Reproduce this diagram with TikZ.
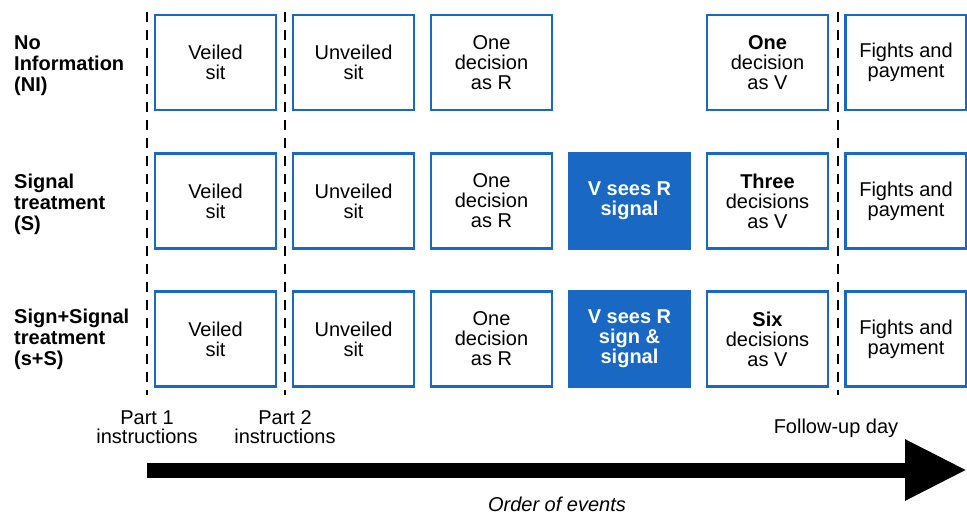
\documentclass[tikz,border=0pt]{standalone}
\usepackage{fontspec}
\setmainfont{Liberation Sans}
\usepackage{tikz}
\usetikzlibrary{arrows.meta, positioning}
\definecolor{figblue}{RGB}{24,104,196}

\begin{document}
\begin{tikzpicture}[
    x=1pt, y=-1pt,
    box/.style={rectangle, draw=figblue, line width=2.5pt, fill=white, minimum width=121pt, minimum height=95pt, inner sep=0pt, align=center, font=\fontsize{20}{20}\selectfont},
    fullbox/.style={box, fill=figblue, text=white, font=\fontsize{20}{20}\selectfont\bfseries},
    rowlabel/.style={anchor=west, align=left, inner sep=0pt, font=\fontsize{20}{21}\selectfont\bfseries},
    phase/.style={align=center, inner sep=0pt, font=\fontsize{20}{19}\selectfont},
    divider/.style={line width=2pt, dash pattern=on 10pt off 8pt},
]
\useasboundingbox (0,0) rectangle (967,514);

% Phase dividers
\coordinate (d1top) at (147,12);
\coordinate (d1bot) at (147,395);
\coordinate (d2top) at (285,12);
\coordinate (d2bot) at (285,395);
\coordinate (d3top) at (838,12);
\coordinate (d3bot) at (838,395);
\draw[divider] (d1top) -- (d1bot);
\draw[divider] (d2top) -- (d2bot);
\draw[divider] (d3top) -- (d3bot);

% Row labels
\node[rowlabel] (lblni) at (14,66) {No\\Information\\(NI)};
\node[rowlabel] (lbls) at (14,204) {Signal\\treatment\\(S)};
\node[rowlabel] (lblss) at (14,339) {Sign+Signal\\treatment\\(s+S)};

% No information
\node[box] (niveil) at (215.5,62.5) {Veiled\\sit};
\node[box] (niunveil) at (353.5,62.5) {Unveiled\\sit};
\node[box] (nirole) at (491.5,62.5) {One\\decision\\as R};
\node[box] (niv) at (767.5,62.5) {\textbf{One}\\decision\\as V};
\node[box] (nifight) at (906,62.5) {Fights and\\payment};

% Signal treatment
\node[box] (sveil) at (215.5,201) {Veiled\\sit};
\node[box] (sunveil) at (353.5,201) {Unveiled\\sit};
\node[box] (srole) at (491.5,201) {One\\decision\\as R};
\node[fullbox] (ssees) at (629.5,201) {V sees R\\signal};
\node[box] (sv) at (767.5,201) {\textbf{Three}\\decisions\\as V};
\node[box] (sfight) at (906,201) {Fights and\\payment};

% Sign+Signal treatment
\node[box] (ssveil) at (215.5,339) {Veiled\\sit};
\node[box] (ssunveil) at (353.5,339) {Unveiled\\sit};
\node[box] (ssrole) at (491.5,339) {One\\decision\\as R};
\node[fullbox] (sssees) at (629.5,339) {V sees R\\sign \&\\signal};
\node[box] (ssv) at (767.5,339) {\textbf{Six}\\decisions\\as V};
\node[box] (ssfight) at (906,339) {Fights and\\payment};

% Timeline
\node[phase] (part1) at (147,427) {Part 1\\instructions};
\node[phase] (part2) at (285,427) {Part 2\\instructions};
\node[phase] (followup) at (836,428) {Follow-up day};
\coordinate (tstart) at (147,470);
\coordinate (tend) at (967,470);
\draw[line width=15pt, -{Triangle[length=62pt, width=57pt]}] (tstart) -- (tend);
\node[inner sep=0pt, font=\fontsize{20}{20}\selectfont\itshape] (order) at (557,504) {Order of events};
\end{tikzpicture}
\end{document}
